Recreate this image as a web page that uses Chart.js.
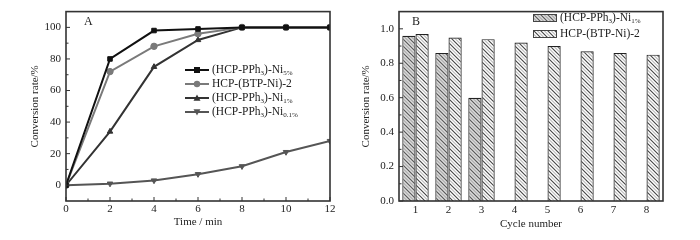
<!DOCTYPE html>
<html>
<head>
<meta charset="utf-8">
<script src="https://cdn.jsdelivr.net/npm/chart.js@4/dist/chart.umd.min.js"></script>
<style>
  body { margin: 0; background: #fff; }
  #wrap { position: relative; width: 700px; height: 240px; font-family: "Liberation Serif", serif; color: #222; }
  canvas { position: absolute; top: 0; }
  #chartA { left: 0; }
  #chartB { left: 350px; }
  .tag { position: absolute; font-size: 12px; }
  .leg { position: absolute; font-size: 11.5px; line-height: 14px; }
  .leg div { height: 14px; white-space: nowrap; }
  .leg svg, .leg canvas { position: static; vertical-align: middle; margin-right: 3px; }
  .leg sub { font-size: 7px; vertical-align: -2px; }
</style>
</head>
<body>
<div id="wrap">
  <canvas id="chartA" width="350" height="240"></canvas>
  <canvas id="chartB" width="350" height="240"></canvas>
  <div class="tag" style="left:84px;top:14px">A</div>
  <div class="tag" style="left:412px;top:14px">B</div>
  <div class="leg" id="legA" style="left:185px;top:62px"></div>
  <div class="leg" id="legB" style="left:533px;top:10px"></div>
</div>
<script>
// panel A: conversion vs time
const timeMin = [0, 2, 4, 6, 8, 10, 12];
const ni5 = [0, 80, 98, 99, 100, 100, 100];
const btp = [0, 72, 88, 96, 100, 100, 100];
const ni1 = [0, 34, 75, 92, 100, 100, 100];
const ni01 = [0, 1, 3, 7, 12, 21, 28];
const xTicksA = [0, 2, 4, 6, 8, 10, 12];
const xMinorA = [1, 3, 5, 7, 9, 11];
const yTicksA = [0, 20, 40, 60, 80, 100];
const yMinorA = [10, 30, 50, 70, 90];

// panel B: recycling
const cycles = ["1", "2", "3", "4", "5", "6", "7", "8"];
const cycNi1 = [0.96, 0.86, 0.60, null, null, null, null, null];
const cycBtp = [0.97, 0.95, 0.94, 0.92, 0.90, 0.87, 0.86, 0.85];
const yTicksB = [0, 0.2, 0.4, 0.6, 0.8, 1.0];
const yMinorB = [0.1, 0.3, 0.5, 0.7, 0.9];

const serif = "'Liberation Serif', serif";
Chart.defaults.font.family = serif;
Chart.defaults.color = "#222";

// inward ticks + box frame
const frame = {
  id: "frame",
  afterDatasetsDraw(chart, args, opts) {
    const ctx = chart.ctx, a = chart.chartArea;
    const xs = chart.scales.x, ys = chart.scales.y;
    ctx.save();
    ctx.strokeStyle = "#333";
    ctx.lineWidth = 1;
    ctx.beginPath();
    (opts.xMajor || []).forEach(v => { const p = xs.getPixelForValue(v); ctx.moveTo(p, a.bottom); ctx.lineTo(p, a.bottom - 4); });
    (opts.xMinor || []).forEach(v => { const p = xs.getPixelForValue(v); ctx.moveTo(p, a.bottom); ctx.lineTo(p, a.bottom - 2.5); });
    (opts.yMajor || []).forEach(v => { const p = ys.getPixelForValue(v); ctx.moveTo(a.left, p); ctx.lineTo(a.left + 4, p); });
    (opts.yMinor || []).forEach(v => { const p = ys.getPixelForValue(v); ctx.moveTo(a.left, p); ctx.lineTo(a.left + 2.5, p); });
    ctx.stroke();
    ctx.lineWidth = 1.6;
    ctx.strokeRect(a.left, a.top, a.right - a.left, a.bottom - a.top);
    ctx.restore();
  }
};

const tickFont = { family: serif, size: 11 };
const titleFont = { family: serif, size: 11 };

const colsA = ["#111", "#7a7a7a", "#333", "#555"];
const styleA = [
  { pointStyle: "rect", rotation: 0 },
  { pointStyle: "circle", rotation: 0 },
  { pointStyle: "triangle", rotation: 0 },
  { pointStyle: "triangle", rotation: 180 }
];
const namesA = [
  "(HCP-PPh<sub>3</sub>)-Ni<sub>5%</sub>",
  "HCP-(BTP-Ni)-2",
  "(HCP-PPh<sub>3</sub>)-Ni<sub>1%</sub>",
  "(HCP-PPh<sub>3</sub>)-Ni<sub>0.1%</sub>"
];

function lineSet(vals, i) {
  return {
    data: timeMin.map((t, k) => ({ x: t, y: vals[k] })),
    borderColor: colsA[i],
    backgroundColor: colsA[i],
    borderWidth: 2,
    tension: 0,
    pointStyle: styleA[i].pointStyle,
    rotation: styleA[i].rotation,
    pointRadius: 3.2,
    pointBorderWidth: 1
  };
}

new Chart(document.getElementById("chartA"), {
  type: "line",
  data: { datasets: [lineSet(ni5, 0), lineSet(btp, 1), lineSet(ni1, 2), lineSet(ni01, 3)] },
  options: {
    responsive: false,
    animation: false,
    layout: { padding: { left: 25, top: 9, right: 20, bottom: 7 } },
    plugins: {
      legend: { display: false },
      tooltip: { enabled: false },
      frame: { xMajor: xTicksA, xMinor: xMinorA, yMajor: yTicksA, yMinor: yMinorA }
    },
    scales: {
      x: {
        type: "linear", min: 0, max: 12,
        afterBuildTicks: s => { s.ticks = xTicksA.map(v => ({ value: v })); },
        afterFit: s => { s.height = 32; },
        grid: { display: false, drawTicks: false },
        border: { display: false },
        ticks: { font: tickFont, padding: 2, maxRotation: 0 },
        title: { display: true, text: "Time / min", font: titleFont, padding: 4 }
      },
      y: {
        min: -10, max: 110,
        afterBuildTicks: s => { s.ticks = yTicksA.map(v => ({ value: v })); },
        afterFit: s => { s.width = 41; },
        grid: { display: false, drawTicks: false },
        border: { display: false },
        ticks: { font: tickFont, padding: 5 },
        title: { display: true, text: "Conversion rate/%", font: titleFont, padding: 4 }
      }
    }
  },
  plugins: [frame]
});

// hatch fills for bars
function hatch(bg, dark, light) {
  const n = 7;
  const c = document.createElement("canvas");
  c.width = n; c.height = n;
  const g = c.getContext("2d");
  g.fillStyle = bg; g.fillRect(0, 0, n, n);
  g.lineWidth = 1.1;
  g.strokeStyle = light;
  g.beginPath();
  g.moveTo(-1, n / 2 - 1); g.lineTo(n / 2 + 1, n + 1);
  g.moveTo(n / 2 - 1, -1); g.lineTo(n + 1, n / 2 + 1);
  g.stroke();
  g.strokeStyle = dark;
  g.beginPath();
  g.moveTo(-1, -1); g.lineTo(n + 1, n + 1);
  g.moveTo(-2, n - 2); g.lineTo(2, n + 2);
  g.moveTo(n - 2, -2); g.lineTo(n + 2, 2);
  g.stroke();
  return g.createPattern(c, "repeat");
}
const fillsB = [hatch("#dcdcdc", "#555", "#aaa"), hatch("#ffffff", "#444", "#bbb")];
const namesB = ["(HCP-PPh<sub>3</sub>)-Ni<sub>1%</sub>", "HCP-(BTP-Ni)-2"];

new Chart(document.getElementById("chartB"), {
  type: "bar",
  data: {
    labels: cycles,
    datasets: [
      { data: cycNi1, backgroundColor: fillsB[0], borderColor: "#222", borderWidth: 1.2, borderSkipped: "bottom" },
      { data: cycBtp, backgroundColor: fillsB[1], borderColor: "#222", borderWidth: 1.2, borderSkipped: "bottom" }
    ]
  },
  options: {
    responsive: false,
    animation: false,
    layout: { padding: { left: 6, top: 9, right: 37, bottom: 5 } },
    datasets: { bar: { barPercentage: 1, categoryPercentage: 0.8 } },
    plugins: {
      legend: { display: false },
      tooltip: { enabled: false },
      frame: { yMajor: yTicksB, yMinor: yMinorB }
    },
    scales: {
      x: {
        afterFit: s => { s.height = 34; },
        grid: { display: false, drawTicks: false },
        border: { display: false },
        ticks: { font: tickFont, padding: 3, maxRotation: 0 },
        title: { display: true, text: "Cycle number", font: titleFont, padding: 4 }
      },
      y: {
        min: 0, max: 1.1,
        afterBuildTicks: s => { s.ticks = yTicksB.map(v => ({ value: v })); },
        afterFit: s => { s.width = 43; },
        grid: { display: false, drawTicks: false },
        border: { display: false },
        ticks: { font: tickFont, padding: 5, callback: v => v.toFixed(1) },
        title: { display: true, text: "Conversion rate/%", font: titleFont, padding: 4 }
      }
    }
  },
  plugins: [frame]
});

// legends (html so subscripts stay real text)
const legA = document.getElementById("legA");
namesA.forEach((nm, i) => {
  const row = document.createElement("div");
  let mk;
  if (i === 0) mk = '<rect x="9" y="2" width="6" height="6" fill="' + colsA[i] + '"/>';
  else if (i === 1) mk = '<circle cx="12" cy="5" r="3.2" fill="' + colsA[i] + '"/>';
  else if (i === 2) mk = '<polygon points="12,1.5 15.5,7.8 8.5,7.8" fill="' + colsA[i] + '"/>';
  else mk = '<polygon points="12,8.5 15.5,2.2 8.5,2.2" fill="' + colsA[i] + '"/>';
  row.innerHTML = '<svg width="24" height="10"><line x1="0" y1="5" x2="24" y2="5" stroke="' + colsA[i] + '" stroke-width="2"/>' + mk + '</svg>' + nm;
  legA.appendChild(row);
});

const legB = document.getElementById("legB");
namesB.forEach((nm, i) => {
  const row = document.createElement("div");
  row.style.height = "16px";
  const sw = document.createElement("canvas");
  sw.width = 24; sw.height = 8;
  const g = sw.getContext("2d");
  g.fillStyle = fillsB[i]; g.fillRect(0, 0, 24, 8);
  g.strokeStyle = "#444"; g.lineWidth = 1; g.strokeRect(0.5, 0.5, 23, 7);
  row.appendChild(sw);
  const sp = document.createElement("span");
  sp.innerHTML = nm;
  row.appendChild(sp);
  legB.appendChild(row);
});
</script>
</body>
</html>
